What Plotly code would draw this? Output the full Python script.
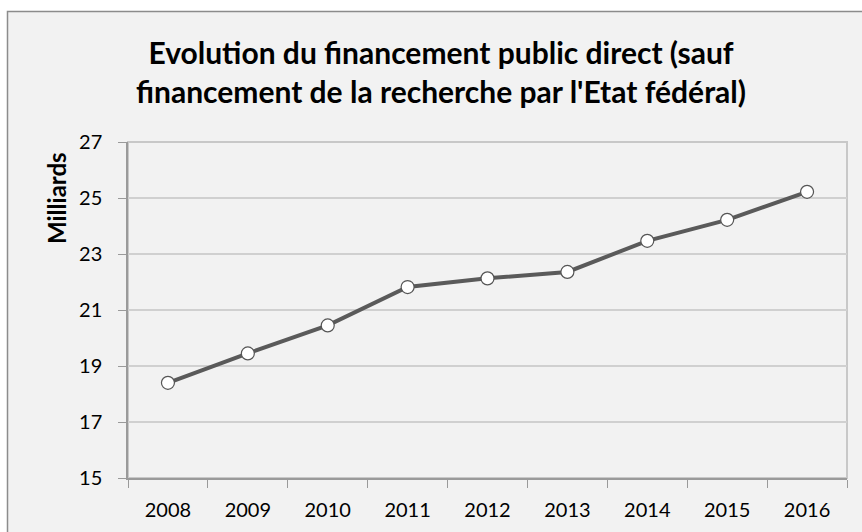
import plotly.graph_objects as go

years = ["2008", "2009", "2010", "2011", "2012", "2013", "2014", "2015", "2016"]
values = [18.4, 19.45, 20.45, 21.82, 22.13, 22.36, 23.47, 24.22, 25.22]
y_ticks = [15, 17, 19, 21, 23, 25, 27]

title_text = "<b>Evolution du financement public direct (sauf<br>financement de la recherche par l'Etat fédéral)</b>"
y_title = "<b>Milliards</b>"

W, H = 862, 532
L, R, T, B = 128, 15, 142, 54
pw, ph = W - L - R, H - T - B

def px_x(x):
    return (x - L) / pw

def px_y(y):
    return (H - B - y) / ph

FONT = "Lato"

fig = go.Figure()
fig.add_trace(go.Scatter(
    x=years, y=values, mode="lines+markers",
    line=dict(color="#5a5a5a", width=4),
    marker=dict(size=13, color="white", line=dict(color="#555555", width=1.2)),
    hoverinfo="x+y", showlegend=False,
))

fig.update_layout(
    width=W, height=H,
    margin=dict(l=L, r=R, t=T, b=B),
    paper_bgcolor="white",
    plot_bgcolor="#f2f2f2",
    font=dict(family=FONT, color="black"),
    showlegend=False,
    xaxis=dict(
        type="category", tickson="boundaries", ticks="outside", ticklen=8,
        tickcolor="#9a9a9a", showline=True, linecolor="#9a9a9a", linewidth=1.5,
        showgrid=False, tickfont=dict(size=20, family=FONT), ticklabelstandoff=13,
        range=[-0.5, len(years) - 0.5], fixedrange=True,
    ),
    yaxis=dict(
        range=[15, 27], tickvals=y_ticks, ticks="outside", ticklen=8,
        tickcolor="#9a9a9a", showline=True, linecolor="#9a9a9a", linewidth=1.5,
        showgrid=True, gridcolor="#d0d0d0", gridwidth=1.5, ticklabelstandoff=12,
        tickfont=dict(size=20, family=FONT), zeroline=False, fixedrange=True,
    ),
    shapes=[
        dict(type="rect", xref="paper", yref="paper", layer="below",
             x0=px_x(7.5), x1=px_x(900), y0=px_y(560), y1=px_y(11.5),
             fillcolor="#f2f2f2", line=dict(color="#8c8c8c", width=1.5)),
        dict(type="rect", xref="paper", yref="paper", layer="below",
             x0=0, x1=1, y0=0, y1=1,
             line=dict(color="#c8c8c8", width=2)),
    ],
    annotations=[
        dict(text=title_text, xref="paper", yref="paper",
             x=px_x(441), y=px_y(71), xanchor="center", yanchor="middle",
             showarrow=False, font=dict(size=30, family=FONT, color="black"),
             align="center"),
        dict(text=y_title, xref="paper", yref="paper",
             x=px_x(56), y=px_y(198), xanchor="center", yanchor="middle",
             showarrow=False, textangle=-90,
             font=dict(size=24, family=FONT, color="black")),
    ],
)

fig.write_html("out.html", config={"displayModeBar": False},
               post_script="document.body.style.margin='0';")
